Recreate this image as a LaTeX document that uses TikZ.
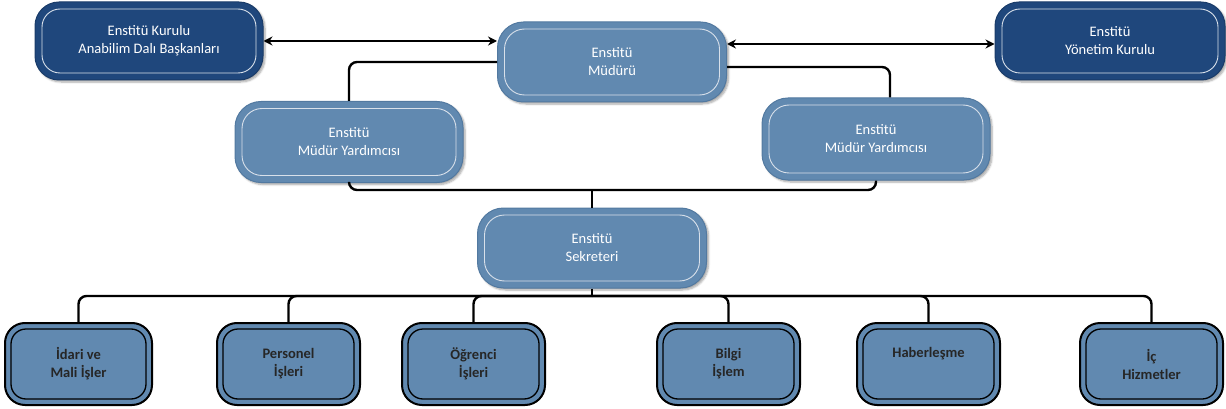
\documentclass[tikz,border=0pt]{standalone}
\usepackage{fontspec}
\setmainfont{Carlito}
\usetikzlibrary{shadows.blur,arrows.meta}
\definecolor{darkbox}{HTML}{1F477C}
\definecolor{darkedge}{HTML}{1A3C69}
\definecolor{midbox}{HTML}{6189B0}
\definecolor{midedge}{HTML}{5279A0}
\definecolor{innerlight}{HTML}{D8E0EA}
\tikzset{
  base/.style={rectangle, align=center, font=\fontsize{14.5}{18}\selectfont, inner sep=0pt},
  inset/.style 2 args={path picture={\draw[#1, line width=0.9pt, rounded corners=#2]
      ([xshift=7pt,yshift=-7pt]path picture bounding box.north west) rectangle
      ([xshift=-7pt,yshift=7pt]path picture bounding box.south east);}},
  darkbox/.style={base, fill=darkbox, draw=darkedge, line width=1pt, text=white,
      rounded corners=24pt, minimum width=228pt, minimum height=78pt,
      inset={innerlight}{18pt},
      blur shadow={shadow xshift=2pt, shadow yshift=-2pt, shadow blur steps=6, shadow opacity=35}},
  midbox/.style={base, fill=midbox, draw=midedge, line width=1pt, text=white,
      rounded corners=26pt, minimum width=229pt, minimum height=80pt,
      inset={innerlight}{20pt},
      blur shadow={shadow xshift=2pt, shadow yshift=-2pt, shadow blur steps=6, shadow opacity=35}},
  unitbox/.style={base, fill=midbox, draw=black, line width=2pt, text=black!85,
      font=\bfseries\fontsize{14.5}{18}\selectfont,
      rounded corners=20pt, minimum width=145pt, minimum height=82pt,
      path picture={\draw[black, line width=1.3pt, rounded corners=15pt]
      ([xshift=6pt,yshift=-6pt]path picture bounding box.north west) rectangle
      ([xshift=-6pt,yshift=6pt]path picture bounding box.south east);}},
  conn/.style={draw=black, line width=2.4pt, rounded corners=8pt},
  biarrow/.style={draw=black, line width=2.2pt, {Stealth[length=9pt,width=9pt]}-{Stealth[length=9pt,width=9pt]}}
}
\begin{document}
\begin{tikzpicture}[x=1pt,y=-1pt]
\useasboundingbox (0,0) rectangle (1226,409);
% top row
\node[darkbox] (kurul) at (149,41) {Enstitü Kurulu\\Anabilim Dalı Başkanları};
\node[midbox] (mudur) at (612,62) {Enstitü\\Müdürü};
\node[darkbox, minimum width=230pt] (yonetim) at (1110,41) {Enstitü\\Yönetim Kurulu};
% deputies
\node[midbox, minimum width=228pt, minimum height=81pt] (myl) at (349,142) {Enstitü\\Müdür Yardımcısı};
\node[midbox, minimum width=228pt, minimum height=82pt] (myr) at (876,139) {Enstitü\\Müdür Yardımcısı};
% secretary
\node[midbox] (sek) at (592,248) {Enstitü\\Sekreteri};
% units
\node[unitbox, minimum width=147pt] (idari) at (78.5,364) {İdari ve\\Mali İşler};
\node[unitbox, minimum width=143pt] (pers) at (288.5,364) {Personel\\İşleri};
\node[unitbox, minimum width=143pt] (ogr) at (473.5,364) {Öğrenci\\İşleri};
\node[unitbox, minimum width=143pt] (bilgi) at (728.5,364) {Bilgi\\İşlem};
\node[unitbox, minimum width=143pt] (haber) at (928.5,364) {Haberleşme\\\strut};
\node[unitbox, minimum width=143pt] (ic) at (1151.5,364) {İç\\Hizmetler};
% arrows
\draw[biarrow] (kurul.east) -- (mudur.west |- kurul.east);
\draw[biarrow] ([yshift=-3pt]mudur.east |- yonetim.east) -- ([yshift=-3pt]yonetim.west);
% director to deputies
\coordinate (mrt) at ([xshift=14pt]myr.north);
\draw[conn] (mudur.west) -| (myl.north);
\draw[conn] ([yshift=-5pt]mudur.east) -| (mrt);
% deputies to secretary
\coordinate (dj) at (sek.north |- 0,190);
\draw[conn] (myl.south) |- (dj) -| (myr.south);
\draw[conn] (dj) -- (sek.north);
% secretary to units
\coordinate (bus) at (sek.south |- 0,296);
\draw[conn] (sek.south) -- (bus);
\foreach \u in {idari,pers,ogr,bilgi,haber,ic}{
  \draw[conn] (bus) -| (\u.north);
}
\end{tikzpicture}
\end{document}
